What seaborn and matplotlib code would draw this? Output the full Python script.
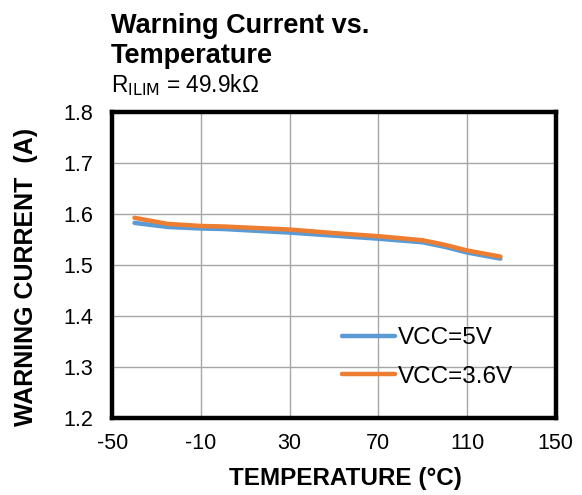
import matplotlib
matplotlib.use('Agg')
import pandas as pd
import numpy as np
import seaborn as sns
from matplotlib import pyplot as plt

# values
temps = [-40, -25, -10, 0, 30, 50, 70, 90, 100, 110, 125]
vcc5 = [1.582, 1.574, 1.571, 1.570, 1.563, 1.557, 1.551, 1.544, 1.535, 1.524, 1.512]
vcc36 = [1.592, 1.580, 1.576, 1.575, 1.569, 1.562, 1.556, 1.548, 1.539, 1.528, 1.516]
series_names = ["VCC=5V", "VCC=3.6V"]
colors = ["#5B9BD5", "#ED7D31"]
xticks = [-50, -10, 30, 70, 110, 150]
yticks = [1.2, 1.3, 1.4, 1.5, 1.6, 1.7, 1.8]

fd = pd.DataFrame({
    "Temp": temps * 2,
    "Current": vcc5 + vcc36,
    "Series": [series_names[0]] * len(temps) + [series_names[1]] * len(temps),
})

sns.set_style("white")
plt.rcParams['font.family'] = ['Liberation Sans', 'DejaVu Sans']
plt.rcParams['axes.unicode_minus'] = False
for k in ['text.color', 'axes.labelcolor', 'xtick.color', 'ytick.color']:
    plt.rcParams[k] = 'black'

fig = plt.figure(figsize=(5.82, 4.95), dpi=100)
ax = fig.add_axes([0.193, 0.1556, 0.762, 0.619])

sns.lineplot(data=fd, x="Temp", y="Current", hue="Series",
             palette=colors, linewidth=3.2, ax=ax)

ax.set_xlim(-50, 150)
ax.set_ylim(1.2, 1.8)
ax.set_xticks(xticks)
ax.set_yticks(yticks)
ax.set_yticklabels(["%.1f" % v for v in yticks])
ax.tick_params(labelsize=15.5, length=0)
ax.tick_params(axis='x', pad=11)
ax.tick_params(axis='y', pad=14)
ax.grid(True, color="#A6A6A6", linewidth=1)
for s in ax.spines.values():
    s.set_visible(True)
    s.set_color("black")
    s.set_linewidth(3.2)

ax.set_xlabel("TEMPERATURE (°C)", fontsize=17.5, fontweight="bold")
ax.set_ylabel("WARNING CURRENT  (A)", fontsize=18, fontweight="bold")
ax.xaxis.set_label_coords(0.525, -0.199)
ax.xaxis.label.set_va('center')
ax.yaxis.set_label_coords(-0.195, 0.46)
ax.yaxis.label.set_va('center')

leg = ax.legend(loc="center left", frameon=False, fontsize=17.5,
                bbox_to_anchor=(0.5175, 0.198), handlelength=2.18,
                labelspacing=0.68, handletextpad=0.12,
                borderpad=0, borderaxespad=0)

fig.text(0.19, 0.9333, "Warning Current vs.", fontsize=19.5,
         fontweight="bold", ha="left", va="baseline")
fig.text(0.19, 0.8727, "Temperature", fontsize=19.5,
         fontweight="bold", ha="left", va="baseline")
fig.text(0.19, 0.8141, "R$_{\\mathrm{ILIM}}$ = 49.9k\u03a9", fontsize=16.3,
         ha="left", va="baseline")

fig.savefig("out.png", dpi=100)
